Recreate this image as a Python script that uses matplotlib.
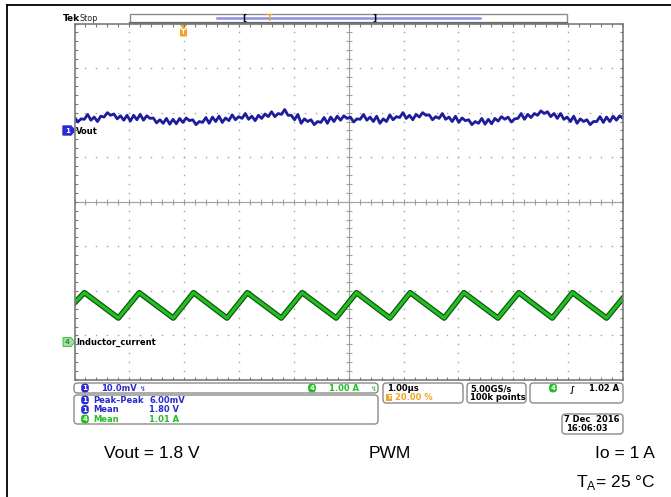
import numpy as np
import matplotlib
matplotlib.use('Agg')
import matplotlib.pyplot as plt
from matplotlib.patches import FancyBboxPatch, Rectangle, Polygon

plt.rcParams['mathtext.fontset'] = 'custom'
plt.rcParams['mathtext.rm'] = 'Liberation Sans'

W, H = 671, 497

# ---- data (screen divisions: 10 x 8, 1 us/div) ----
# channel 1, Vout (10 mV/div), read every ~0.06 div
vout = [5.90, 5.79, 5.86, 5.85, 5.96, 5.83, 5.90, 5.80, 5.92, 5.90, 6.00, 5.94,
        5.97, 5.86, 5.93, 5.83, 5.94, 5.81, 5.94, 5.84, 5.96, 5.83, 5.93, 5.87,
        5.88, 5.77, 5.84, 5.76, 5.87, 5.74, 5.85, 5.75, 5.87, 5.78, 5.88, 5.82,
        5.84, 5.73, 5.80, 5.78, 5.89, 5.76, 5.90, 5.80, 5.92, 5.78, 5.88, 5.82,
        5.95, 5.84, 5.91, 5.87, 5.98, 5.85, 5.92, 5.82, 5.94, 5.87, 5.97, 5.91,
        6.02, 5.91, 5.98, 5.96, 6.07, 5.94, 5.94, 5.84, 5.96, 5.76, 5.86, 5.80,
        5.84, 5.73, 5.80, 5.78, 5.89, 5.76, 5.90, 5.80, 5.92, 5.83, 5.93, 5.87,
        5.90, 5.79, 5.86, 5.85, 5.96, 5.83, 5.90, 5.80, 5.92, 5.76, 5.86, 5.80,
        5.95, 5.84, 5.91, 5.89, 6.00, 5.87, 5.94, 5.84, 5.96, 5.90, 6.00, 5.94,
        5.95, 5.84, 5.91, 5.87, 5.98, 5.85, 5.90, 5.80, 5.92, 5.78, 5.88, 5.82,
        5.84, 5.73, 5.80, 5.76, 5.87, 5.74, 5.85, 5.75, 5.87, 5.81, 5.91, 5.85,
        5.90, 5.79, 5.86, 5.87, 5.98, 5.85, 5.96, 5.89, 5.98, 5.94, 6.04, 5.98,
        6.02, 5.91, 5.98, 5.87, 5.98, 5.85, 5.90, 5.80, 5.92, 5.76, 5.86, 5.80,
        5.84, 5.73, 5.80, 5.80, 5.91, 5.78, 5.90, 5.80, 5.92, 5.83, 5.93, 5.87]
# channel 4, inductor current: triangle vertices (time div, level div)
il_t = [0.0, 0.18, 0.80, 1.18, 1.80, 2.17, 2.78, 3.15, 3.77, 4.15, 4.77,
        5.14, 5.75, 6.12, 6.74, 7.10, 7.72, 8.10, 8.71, 9.08, 9.70, 10.0]
il_v = [1.73, 1.96, 1.39, 1.96, 1.39, 1.96, 1.39, 1.96, 1.39, 1.96, 1.39,
        1.96, 1.39, 1.96, 1.39, 1.96, 1.39, 1.96, 1.39, 1.96, 1.39, 1.84]

ch1_label = 'Vout'
ch4_label = 'Inductor_current'
meas_names = ['Peak\u2013Peak', 'Mean', 'Mean']
meas_vals = ['6.00mV', '1.80 V', '1.01 A']
meas_ch = ['1', '1', '4']

BLUE = '#1c1c9c'
TXT_BLUE = '#2a2ad2'
GREEN = '#22bf22'
ORANGE = '#f3a521'

fig = plt.figure(figsize=(6.71, 4.97), dpi=100)
bg = fig.add_axes([0, 0, 1, 1])
bg.set_xlim(0, W)
bg.set_ylim(H, 0)
bg.axis('off')

# outer frame lines
bg.plot([7, W], [5, 5], color='black', lw=1.3)
bg.plot([7, 7], [5, H], color='black', lw=1.3)

# ---- graticule ----
gx0, gx1, gy0, gy1 = 74.5, 623, 23.5, 380
ax = fig.add_axes([gx0 / W, 1 - gy1 / H, (gx1 - gx0) / W, (gy1 - gy0) / H])
ax.set_xlim(0, 10)
ax.set_ylim(0, 8)
ax.patch.set_alpha(0)
ax.set_xticks([])
ax.set_yticks([])
for s in ax.spines.values():
    s.set_color('#7a7a7a')
    s.set_linewidth(1.2)

fx = np.arange(0, 10.01, 0.2)
fy = np.arange(0, 8.01, 0.2)
gc = '#a0a0a0'
for gy in [1, 2, 3, 5, 6, 7]:
    ax.plot(fx, np.full_like(fx, gy), ls='none', marker='s', ms=1.0, mew=0, color=gc)
for gx in [1, 2, 3, 4, 6, 7, 8, 9]:
    ax.plot(np.full_like(fy, gx), fy, ls='none', marker='s', ms=1.0, mew=0, color=gc)
ax.axvline(5, color=gc, lw=0.8)
ax.axhline(4, color=gc, lw=0.8)
ax.plot(np.full_like(fy, 5), fy, ls='none', marker='_', ms=4, mew=0.8, color=gc)
ax.plot(fx, np.full_like(fx, 4), ls='none', marker='|', ms=4, mew=0.8, color=gc)
# border ticks (half clipped -> inward)
ax.plot(np.zeros_like(fy), fy, ls='none', marker='_', ms=5, mew=0.8, color='#7a7a7a')
ax.plot(np.full_like(fy, 10), fy, ls='none', marker='_', ms=5, mew=0.8, color='#7a7a7a')
ax.plot(fx, np.zeros_like(fx), ls='none', marker='|', ms=5, mew=0.8, color='#7a7a7a')
ax.plot(fx, np.full_like(fx, 8), ls='none', marker='|', ms=5, mew=0.8, color='#7a7a7a')

# traces
vt = np.linspace(0, 10, len(vout))
ax.plot(vt, vout, color=BLUE, lw=2.0)
ax.plot(il_t, il_v, color='#0d520d', lw=4.0)
ax.plot(il_t, il_v, color=GREEN, lw=2.3)

# ---- top bar ----
bg.text(63, 18.5, 'Tek', fontsize=6.5, fontweight='bold', va='center', ha='left')
bg.text(80, 18.5, 'Stop', fontsize=5.8, va='center', ha='left', color='#222222')
bg.add_patch(Rectangle((130, 13.5), 437, 9, facecolor='white', edgecolor='#8c8c8c', lw=1))
bg.plot([130, 567], [22.8, 22.8], color='#6a6a6a', lw=1.6)
bg.plot([217, 480], [18, 18], color='#8f8fe6', lw=1.8)
bg.text(244, 18, '[', fontsize=6.5, fontweight='bold', ha='center', va='center')
bg.text(374, 18, ']', fontsize=6.5, fontweight='bold', ha='center', va='center')
bg.text(270, 18.5, 'T', fontsize=5.5, fontweight='bold', ha='center', va='center', color=ORANGE)

# trigger position marker
bg.add_patch(Polygon([(180, 24), (187, 24), (183.5, 28)], color=ORANGE))
bg.text(183.5, 32.5, 'T', fontsize=5, fontweight='bold', ha='center', va='center', color='white',
        bbox=dict(boxstyle='round,pad=0.15', fc=ORANGE, ec='none'))

# channel markers
bg.add_patch(Polygon([(63, 126), (71, 126), (75, 130.5), (71, 135), (63, 135)], color=TXT_BLUE))
bg.text(67.5, 130.7, '1', fontsize=5, fontweight='bold', color='white', ha='center', va='center')
bg.text(76, 132, ch1_label, fontsize=6, fontweight='bold', ha='left', va='center')
bg.add_patch(Polygon([(63, 337.5), (71, 337.5), (75, 342), (71, 346.5), (63, 346.5)],
                     facecolor='#a6dca6', edgecolor=GREEN, lw=0.6))
bg.text(67.5, 342.2, '4', fontsize=5, fontweight='bold', color='#3a8a3a', ha='center', va='center')
bg.text(76, 342, ch4_label, fontsize=6, fontweight='bold', ha='left', va='center')


def rbox(x0, y0, x1, y1):
    bg.add_patch(FancyBboxPatch((x0, y0), x1 - x0, y1 - y0,
                                boxstyle='round,pad=0,rounding_size=3.5',
                                fc='white', ec='#8a8a8a', lw=1.0))


def badge(x, y, s, color):
    bg.text(x, y, s, fontsize=5, fontweight='bold', color='white', ha='center', va='center',
            bbox=dict(boxstyle='round,pad=0.2,rounding_size=0.5', fc=color, ec='none'))


# ---- status area ----
rbox(74, 383, 378, 393)
badge(85, 388, '1', TXT_BLUE)
bg.text(101, 388.5, '10.0mV', fontsize=6, fontweight='bold', color=TXT_BLUE, va='center')
bg.text(140, 388.5, '\u21af', fontsize=5, color=TXT_BLUE, va='center')
badge(312, 388, '4', GREEN)
bg.text(329, 388.5, '1.00 A', fontsize=6, fontweight='bold', color=GREEN, va='center')
bg.text(371, 388.5, '\u21af', fontsize=5, color=GREEN, va='center')

rbox(74, 395, 378, 424)
rows_y = [400, 409.5, 419]
for yy, ch, nm, val in zip(rows_y, meas_ch, meas_names, meas_vals):
    col = TXT_BLUE if ch == '1' else GREEN
    badge(85, yy, ch, col)
    bg.text(93, yy + 0.5, nm, fontsize=6, fontweight='bold', color=col, va='center')
    bg.text(149, yy + 0.5, val, fontsize=6, fontweight='bold', color=col, va='center')

rbox(383, 383, 463, 403)
bg.text(387, 388.5, '1.00\u00b5s', fontsize=6, fontweight='bold', va='center')
bg.text(387, 397.5, 'T', fontsize=4.5, fontweight='bold', color='white', va='center',
        bbox=dict(boxstyle='square,pad=0.1', fc=ORANGE, ec='none'))
bg.text(395, 397.5, '20.00 %', fontsize=6, fontweight='bold', color=ORANGE, va='center')

rbox(467, 383, 526, 403)
bg.text(470, 388.5, '5.00GS/s', fontsize=6, fontweight='bold', va='center')
bg.text(470, 397.5, '100k points', fontsize=6, fontweight='bold', va='center')

rbox(530, 383, 623, 403)
badge(553, 388, '4', GREEN)
bg.text(572, 388.5, '\u222b', fontsize=6, fontweight='bold', va='center', ha='center')
bg.text(619, 388.5, '1.02 A', fontsize=6, fontweight='bold', va='center', ha='right')

rbox(562, 414, 623, 434)
bg.text(619, 419.5, '7 Dec  2016', fontsize=6, fontweight='bold', va='center', ha='right')
bg.text(566, 428.5, '16:06:03', fontsize=6, fontweight='bold', va='center', ha='left')

# ---- caption ----
cap = dict(fontsize=12.5, family='Liberation Sans', va='center')
bg.text(104, 453, 'Vout = 1.8 V', ha='left', **cap)
bg.text(390, 453, 'PWM', ha='center', **cap)
bg.text(655, 453, 'Io = 1 A', ha='right', **cap)
bg.text(655, 483, 'T$_{\\rm A}$= 25 \u00b0C', ha='right', **cap)

fig.savefig('out.png', dpi=100)
